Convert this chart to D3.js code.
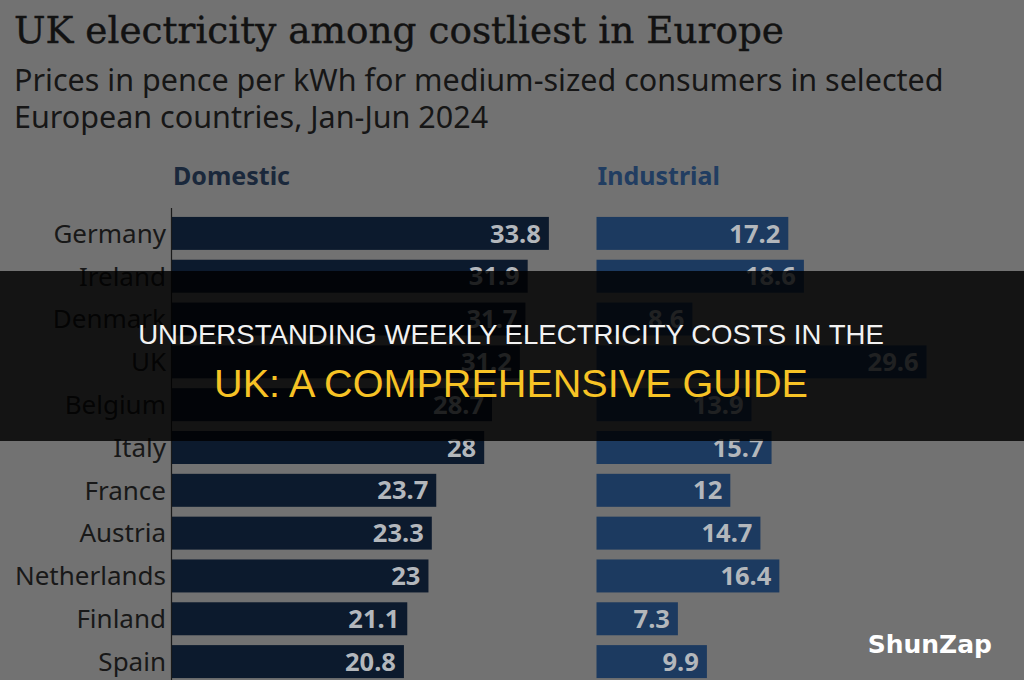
<!DOCTYPE html>
<html>
<head>
<meta charset="utf-8">
<script src="https://cdn.jsdelivr.net/npm/d3@7"></script>
<style>
  html, body { margin: 0; padding: 0; background: #727272; }
  svg { display: block; }
</style>
</head>
<body>
<div id="chart"></div>
<script>
// Chart data
var countries = ["Germany", "Ireland", "Denmark", "UK", "Belgium", "Italy",
                 "France", "Austria", "Netherlands", "Finland", "Spain"];
var domestic = [33.8, 31.9, 31.7, 31.2, 28.7, 28, 23.7, 23.3, 23, 21.1, 20.8];
var industrial = [17.2, 18.6, 8.6, 29.6, 13.9, 15.7, 12, 14.7, 16.4, 7.3, 9.9];
var panels = ["Domestic", "Industrial"];

var width = 1024;
var height = 680;

var svg = d3.select('#chart').append('svg')
    .attr('width', width)
    .attr('height', height);

svg.append('rect')
    .attr('width', width)
    .attr('height', height)
    .attr('fill', '#727272');

// Title + subtitle
svg.append('text')
    .attr('x', 14)
    .attr('y', 43)
    .attr('font-family', 'DejaVu Serif')
    .attr('font-size', 37.4)
    .attr('fill', '#121212')
    .attr('stroke', '#121212')
    .attr('stroke-width', 0.4)
    .text('UK electricity among costliest in Europe');

var sub = ['Prices in pence per kWh for medium-sized consumers in selected',
           'European countries, Jan-Jun 2024'];
svg.selectAll('.sub')
    .data(sub)
    .enter().append('text')
    .attr('class', 'sub')
    .attr('x', 14)
    .attr('y', function (d, i) { return 91 + i * 37; })
    .attr('font-family', 'Noto Sans')
    .attr('font-size', 30.5)
    .attr('fill', '#161616')
    .text(function (d) { return d; });

// Scales
var y = d3.scaleBand()
    .domain(countries)
    .range([212, 683])
    .paddingInner(0.23)
    .paddingOuter(0.115);

var x = d3.scaleLinear()
    .domain([0, 40])
    .range([0, 446]);

var panelX = {Domestic: 172, Industrial: 596.5};
var barColor = {Domestic: '#0c1a2d', Industrial: '#1c3a60'};
var headColor = {Domestic: '#1a283b', Industrial: '#213d61'};
var values = {Domestic: domestic, Industrial: industrial};

panels.forEach(function (p) {
    var g = svg.append('g')
        .attr('transform', 'translate(' + panelX[p] + ',0)');

    g.append('text')
        .attr('x', 1)
        .attr('y', 185)
        .attr('font-family', 'Noto Sans')
        .attr('font-weight', 'bold')
        .attr('font-size', 25)
        .attr('fill', headColor[p])
        .text(p);

    var rows = countries.map(function (c, i) { return {name: c, value: values[p][i]}; });

    g.selectAll('rect.bar')
        .data(rows)
        .enter().append('rect')
        .attr('class', 'bar')
        .attr('x', 0)
        .attr('y', function (d) { return y(d.name); })
        .attr('width', function (d) { return x(d.value); })
        .attr('height', y.bandwidth())
        .attr('fill', barColor[p]);

    g.selectAll('text.val')
        .data(rows)
        .enter().append('text')
        .attr('class', 'val')
        .attr('x', function (d) { return x(d.value) - 8; })
        .attr('y', function (d) { return y(d.name) + y.bandwidth() / 2; })
        .attr('dy', '0.36em')
        .attr('text-anchor', 'end')
        .attr('font-family', 'Noto Sans')
        .attr('font-weight', 'bold')
        .attr('font-size', 25.5)
        .attr('fill', '#b3b7bc')
        .text(function (d) { return d.value; });
});

// Country labels and axis line
svg.selectAll('text.country')
    .data(countries)
    .enter().append('text')
    .attr('class', 'country')
    .attr('x', 166)
    .attr('y', function (d) { return y(d) + y.bandwidth() / 2; })
    .attr('dy', '0.36em')
    .attr('text-anchor', 'end')
    .attr('font-family', 'Noto Sans')
    .attr('font-size', 26)
    .attr('fill', '#181818')
    .text(function (d) { return d; });

svg.append('line')
    .attr('x1', 171.5).attr('x2', 171.5)
    .attr('y1', 208).attr('y2', height)
    .attr('stroke', '#1a1a1a')
    .attr('stroke-width', 1.2);

// Dark banner over middle
svg.append('rect')
    .attr('x', 0)
    .attr('y', 271)
    .attr('width', width)
    .attr('height', 170)
    .attr('fill', '#000')
    .attr('opacity', 0.82);

svg.append('text')
    .attr('x', 511)
    .attr('y', 344)
    .attr('text-anchor', 'middle')
    .attr('font-family', 'Liberation Sans')
    .attr('font-size', 27.6)
    .attr('fill', '#f2f2f2')
    .text('UNDERSTANDING WEEKLY ELECTRICITY COSTS IN THE');

svg.append('text')
    .attr('x', 511)
    .attr('y', 397)
    .attr('text-anchor', 'middle')
    .attr('font-family', 'Liberation Sans')
    .attr('font-size', 39.6)
    .attr('fill', '#f7c325')
    .text('UK: A COMPREHENSIVE GUIDE');

// Watermark
svg.append('text')
    .attr('x', 992)
    .attr('y', 653)
    .attr('text-anchor', 'end')
    .attr('font-family', 'DejaVu Sans')
    .attr('font-weight', 'bold')
    .attr('font-size', 25)
    .attr('fill', '#ffffff')
    .text('ShunZap');
</script>
</body>
</html>
